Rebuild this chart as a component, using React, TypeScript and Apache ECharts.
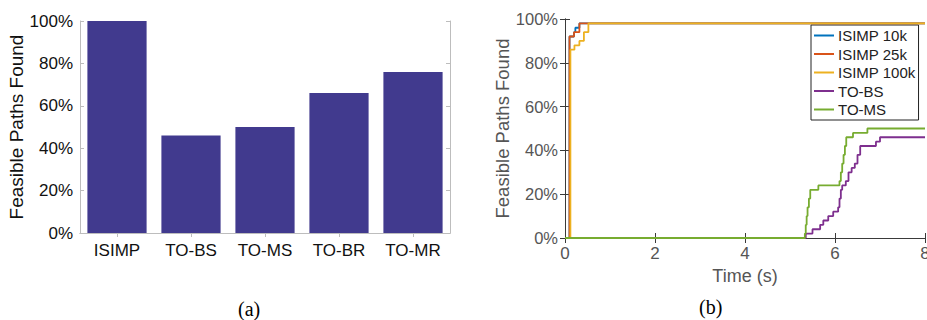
import React, { useEffect, useRef } from "react";
import * as echarts from "echarts";

const categories = ["ISIMP", "TO-BS", "TO-MS", "TO-BR", "TO-MR"];
const barValues = [100, 46, 50, 66, 76];

const seriesNames = ["ISIMP 10k", "ISIMP 25k", "ISIMP 100k", "TO-BS", "TO-MS"];
const seriesColors = ["#0072BD", "#D95319", "#EDB120", "#7E2F8E", "#77AC30"];

// [time (s), % feasible paths found] — value reached at that time
const isimp10k = [[0, 0], [0.1, 92], [0.2, 94], [0.23, 96], [0.32, 98], [8, 98]];
const isimp25k = [[0, 0], [0.1, 92], [0.2, 94], [0.32, 98], [8, 98]];
const isimp100k = [[0, 0], [0.12, 86], [0.21, 88], [0.32, 90], [0.42, 94], [0.52, 98], [8, 98]];
const toBS = [
  [0, 0], [5.35, 2], [5.5, 4], [5.67, 6], [5.74, 8], [5.85, 10], [5.96, 12], [6.07, 14],
  [6.1, 18], [6.13, 22], [6.16, 24], [6.24, 26], [6.3, 30], [6.37, 32], [6.44, 34],
  [6.5, 38], [6.56, 42], [6.91, 44], [7.0, 46], [8, 46],
];
const toMS = [
  [0, 0], [5.33, 2], [5.35, 6], [5.37, 10], [5.39, 14], [5.42, 18], [5.45, 22], [5.63, 24],
  [6.1, 26], [6.13, 30], [6.16, 34], [6.19, 38], [6.22, 42], [6.25, 46], [6.4, 48],
  [6.72, 50], [8, 50],
];
const lineData = [isimp10k, isimp25k, isimp100k, toBS, toMS];

const FONT = "Liberation Sans, Arial, Helvetica, sans-serif";

export default function App() {
  const ref = useRef<HTMLDivElement>(null);
  useEffect(() => {
    document.body.style.margin = "0";
    const chart = echarts.init(ref.current!, null, { renderer: "svg" });
    const leftAxisColor = "#bdbdbd";
    const rightAxisColor = "#3a3a3a";
    const pctLabel = (c: string, size: number) => ({
      formatter: "{value}%",
      color: c,
      fontSize: size,
      fontFamily: FONT,
      margin: 7,
    });
    chart.setOption({
      animation: false,
      backgroundColor: "#ffffff",
      textStyle: { fontFamily: FONT },
      grid: [
        { left: 80, top: 21, width: 370, height: 212, outerBoundsMode: "none", containLabel: false },
        { left: 565, top: 19, width: 360, height: 219, outerBoundsMode: "none", containLabel: false },
      ],
      xAxis: [
        {
          gridIndex: 0,
          type: "category",
          data: categories,
          axisLine: { lineStyle: { color: leftAxisColor } },
          axisTick: { show: false },
          axisLabel: { color: "#111", fontSize: 17, fontFamily: FONT, margin: 9 },
        },
        {
          gridIndex: 0,
          type: "category",
          data: categories,
          position: "top",
          axisLine: { lineStyle: { color: leftAxisColor } },
          axisTick: { show: true, inside: true, alignWithLabel: true, length: 4, lineStyle: { color: leftAxisColor } },
          axisLabel: { show: false },
        },
        {
          gridIndex: 1,
          type: "value",
          min: 0,
          max: 8,
          interval: 2,
          name: "Time (s)",
          nameLocation: "middle",
          nameGap: 28,
          nameTextStyle: { color: "#555", fontSize: 18, fontFamily: FONT },
          axisLine: { lineStyle: { color: rightAxisColor } },
          axisTick: { inside: true, length: 5, lineStyle: { color: rightAxisColor } },
          axisLabel: { color: "#555", fontSize: 17, fontFamily: FONT, margin: 7 },
          splitLine: { show: false },
        },
        {
          gridIndex: 1,
          type: "value",
          min: 0,
          max: 8,
          interval: 2,
          position: "top",
          axisLine: { lineStyle: { color: rightAxisColor } },
          axisTick: { inside: true, length: 5, lineStyle: { color: rightAxisColor } },
          axisLabel: { show: false },
          splitLine: { show: false },
        },
      ],
      yAxis: [
        {
          gridIndex: 0,
          type: "value",
          min: 0,
          max: 100,
          interval: 20,
          name: "Feasible Paths Found",
          nameLocation: "middle",
          nameGap: 53,
          nameTextStyle: { color: "#111", fontSize: 19, fontFamily: FONT },
          axisLine: { show: true, lineStyle: { color: leftAxisColor } },
          axisTick: { show: true, inside: true, length: 4, lineStyle: { color: leftAxisColor } },
          axisLabel: pctLabel("#111", 17),
          splitLine: { show: false },
        },
        {
          gridIndex: 0,
          type: "value",
          min: 0,
          max: 100,
          interval: 20,
          position: "right",
          axisLine: { show: true, lineStyle: { color: leftAxisColor } },
          axisTick: { show: true, inside: true, length: 4, lineStyle: { color: leftAxisColor } },
          axisLabel: { show: false },
          splitLine: { show: false },
        },
        {
          gridIndex: 1,
          type: "value",
          min: 0,
          max: 100,
          interval: 20,
          name: "Feasible Paths Found",
          nameLocation: "middle",
          nameGap: 53,
          nameTextStyle: { color: "#555", fontSize: 18.5, fontFamily: FONT },
          axisLine: { show: true, lineStyle: { color: rightAxisColor } },
          axisTick: { show: true, inside: true, length: 5, lineStyle: { color: rightAxisColor } },
          axisLabel: pctLabel("#555", 16.5),
          splitLine: { show: false },
        },
        {
          gridIndex: 1,
          type: "value",
          min: 0,
          max: 100,
          interval: 20,
          position: "right",
          axisLine: { show: true, lineStyle: { color: rightAxisColor } },
          axisTick: { show: true, inside: true, length: 5, lineStyle: { color: rightAxisColor } },
          axisLabel: { show: false },
          splitLine: { show: false },
        },
      ],
      legend: {
        data: seriesNames,
        orient: "vertical",
        left: 811,
        top: 25,
        padding: [3, 3, 3, 3],
        itemGap: 3.5,
        itemWidth: 20,
        itemHeight: 2,
        icon: "rect",
        borderColor: "#222",
        borderWidth: 1,
        backgroundColor: "#fff",
        textStyle: { color: "#222", fontSize: 15, fontFamily: FONT, padding: [0, 0, 0, -1] },
      },
      series: [
        {
          type: "bar",
          xAxisIndex: 0,
          yAxisIndex: 0,
          data: barValues,
          barCategoryGap: "20%",
          itemStyle: { color: "#413a8e" },
        },
        ...seriesNames.map((name, i) => ({
          type: "line",
          name,
          xAxisIndex: 2,
          yAxisIndex: 2,
          data: lineData[i],
          step: "end",
          symbol: "none",
          color: seriesColors[i],
          lineStyle: { color: seriesColors[i], width: 1.8 },
          z: 3 + i,
        })),
      ],
      graphic: [
        {
          type: "text",
          left: 238,
          top: 299,
          style: { text: "(a)", font: "20px 'Liberation Serif', 'Times New Roman', serif", fill: "#000" },
        },
        {
          type: "text",
          left: 699,
          top: 297,
          style: { text: "(b)", font: "20px 'Liberation Serif', 'Times New Roman', serif", fill: "#000" },
        },
      ],
    });
    return () => chart.dispose();
  }, []);
  return <div ref={ref} style={{ width: 927, height: 320 }} />;
}
